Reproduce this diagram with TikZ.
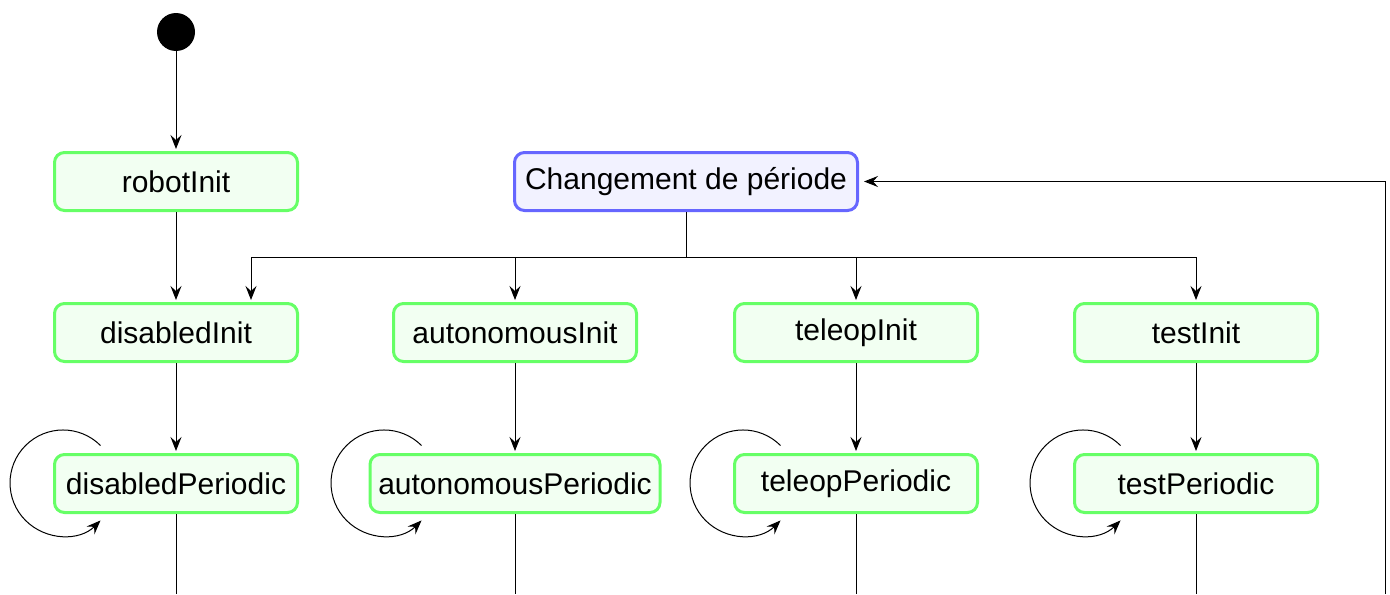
\documentclass[tikz,border=0pt]{standalone}
\usepackage{fontspec}
\setmainfont{Liberation Sans}
\usetikzlibrary{arrows.meta,calc}
\begin{document}
\begin{tikzpicture}[x=0.5pt,y=-0.5pt,
  every node/.style={font=\fontsize{15}{18}\selectfont},
  state/.style={draw=green!60, fill=green!5, line width=1.5pt, rounded corners=5pt,
    minimum width=121.5pt, minimum height=29pt, inner xsep=4pt},
  change/.style={draw=blue!60, fill=blue!5, line width=1.5pt, rounded corners=5pt,
    minimum width=171.5pt, minimum height=29pt, inner xsep=4pt},
  arr/.style={line width=0.5pt, -{Stealth[length=7pt,width=5.5pt,inset=2.5pt]}, shorten >=1pt},
  ln/.style={line width=0.5pt}]
\useasboundingbox (0,0) rectangle (1390,594);

\node[circle, fill=black, minimum size=19pt, inner sep=0pt] (start) at (176,32) {};
\node[state] (robI) at (176,181.5) {robotInit};
\node[change] (chg) at (686,181.5) {Changement de période};

\node[state] (disI) at (176,332.5) {disabledInit};
\node[state] (autI) at (515,332.5) {autonomousInit};
\node[state] (telI) at (856,332.5) {teleopInit};
\node[state] (tesI) at (1196,332.5) {testInit};

\node[state] (disP) at (176,483.5) {disabledPeriodic};
\node[state, minimum width=145pt] (autP) at (515,483.5) {autonomousPeriodic};
\node[state] (telP) at (856,483.5) {teleopPeriodic};
\node[state] (tesP) at (1196,483.5) {testPeriodic};

\draw[arr] (start) -- (robI);
\draw[arr] (robI) -- (disI);
\draw[arr] (disI) -- (disP);
\draw[arr] (autI) -- (autP);
\draw[arr] (telI) -- (telP);
\draw[arr] (tesI) -- (tesP);

\coordinate (bus) at (686,257);
\draw[arr] (chg.south) -- (bus) -| ([xshift=37.5pt]disI.north);
\draw[arr] (bus) -| (autI.north);
\draw[arr] (bus) -| (telI.north);
\draw[arr] (bus) -| (tesI.north);

\coordinate (b1) at (176,594);
\coordinate (b2) at (515,594);
\coordinate (b3) at (856,594);
\coordinate (b4) at (1196,594);
\coordinate (b5) at (1385,594);
\draw[ln] (disP.south) -- (b1);
\draw[ln] (autP.south) -- (b2);
\draw[ln] (telP.south) -- (b3);
\draw[ln] (tesP.south) -- (b4);
\draw[arr, shorten >=2.5pt] (b5) |- (chg.east);

\coordinate (l1) at (100.5,445.5);
\coordinate (l2) at (421.5,445.5);
\coordinate (l3) at (780.5,445.5);
\coordinate (l4) at (1120.5,445.5);
\foreach \c in {l1,l2,l3,l4}
  \draw[line width=0.5pt, -{Stealth[length=7pt,width=5.5pt,inset=2.5pt]}] (\c) arc[start angle=45, end angle=315, radius=26.5pt];
\end{tikzpicture}
\end{document}
